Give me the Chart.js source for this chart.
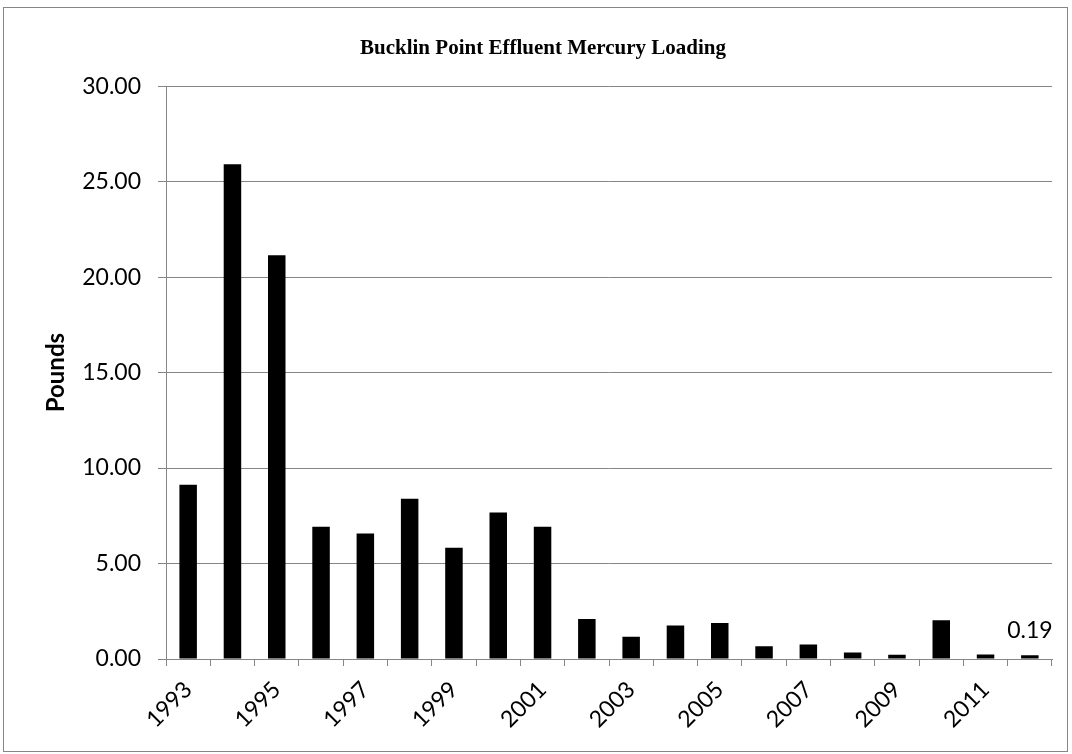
<!DOCTYPE html>
<html>
<head>
<meta charset="utf-8">
<script src="https://cdn.jsdelivr.net/npm/chart.js@4/dist/chart.umd.min.js"></script>
<style>
  html, body { margin: 0; padding: 0; background: #fff; }
  #wrap { position: relative; width: 1072px; height: 754px; }
  #frame { position: absolute; left: 3px; top: 7px; width: 1065px; height: 745px; border: 1px solid #868686; box-sizing: border-box; pointer-events: none; }
  canvas { position: absolute; left: 0; top: 0; }
</style>
</head>
<body>
<div id="wrap">
  <canvas id="c" width="1072" height="754"></canvas>
  <div id="frame"></div>
</div>
<script>
const years = ['1993','1994','1995','1996','1997','1998','1999','2000','2001','2002',
               '2003','2004','2005','2006','2007','2008','2009','2010','2011','2012'];
const pounds = [9.12, 25.91, 21.14, 6.92, 6.57, 8.39, 5.83, 7.67, 6.92, 2.09,
                1.16, 1.76, 1.88, 0.67, 0.76, 0.34, 0.22, 2.03, 0.24, 0.19];
const yTicks = [0, 5, 10, 15, 20, 25, 30];
const labeledIndex = 19;   // bar that carries a data label
const chartTitle = 'Bucklin Point Effluent Mercury Loading';
const yTitle = 'Pounds';

const FONT = 'Lato, "Open Sans", sans-serif';

const dataLabelPlugin = {
  id: 'dataLabel',
  afterDatasetsDraw(chart) {
    const meta = chart.getDatasetMeta(0);
    const bar = meta.data[labeledIndex];
    if (!bar) return;
    const ctx = chart.ctx;
    ctx.save();
    ctx.font = '23px ' + FONT;
    ctx.fillStyle = '#000';
    ctx.textAlign = 'center';
    ctx.textBaseline = 'alphabetic';
    ctx.fillText(pounds[labeledIndex].toFixed(2), bar.x, bar.y - 17);
    ctx.restore();
  }
};

new Chart(document.getElementById('c'), {
  type: 'bar',
  data: {
    labels: years,
    datasets: [{
      data: pounds,
      backgroundColor: '#000',
      borderWidth: 0,
      barPercentage: 0.395,
      categoryPercentage: 1.0
    }]
  },
  options: {
    responsive: false,
    animation: false,
    devicePixelRatio: 1,
    layout: { padding: { left: 34, right: 20, top: 0, bottom: 0 } },
    plugins: {
      legend: { display: false },
      tooltip: { enabled: false },
      title: {
        display: true,
        text: chartTitle,
        color: '#000',
        font: { family: '"Liberation Serif", "Times New Roman", serif', size: 21, weight: 'bold', lineHeight: 1.2 },
        padding: { top: 36, bottom: 25 }
      }
    },
    scales: {
      x: {
        offset: true,
        grid: {
          display: true,
          offset: true,
          drawOnChartArea: false,
          drawTicks: true,
          tickLength: 7,
          color: '#868686',
          lineWidth: 1
        },
        border: { display: true, color: '#868686', width: 1 },
        ticks: {
          autoSkip: false,
          maxRotation: 45,
          minRotation: 45,
          color: '#000',
          font: { family: FONT, size: 23 },
          padding: 10,
          callback: function(value, index) { return index % 2 === 0 ? years[index] : ''; }
        },
        afterFit(scale) { scale.height = 95; }
      },
      y: {
        min: 0,
        max: 30,
        afterBuildTicks(scale) { scale.ticks = yTicks.map(v => ({ value: v })); },
        grid: {
          color: '#868686',
          lineWidth: 1,
          drawTicks: true,
          tickLength: 8
        },
        border: { display: true, color: '#868686', width: 1 },
        ticks: {
          color: '#000',
          font: { family: FONT, size: 23 },
          padding: 17,
          callback: v => Number(v).toFixed(2)
        },
        title: {
          display: true,
          text: yTitle,
          color: '#000',
          font: { family: FONT, size: 24, weight: 'bold', lineHeight: 1.2 },
          padding: { top: 8, bottom: 0 }
        },
        afterFit(scale) { scale.width = 132; }
      }
    }
  },
  plugins: [dataLabelPlugin]
});
</script>
</body>
</html>
